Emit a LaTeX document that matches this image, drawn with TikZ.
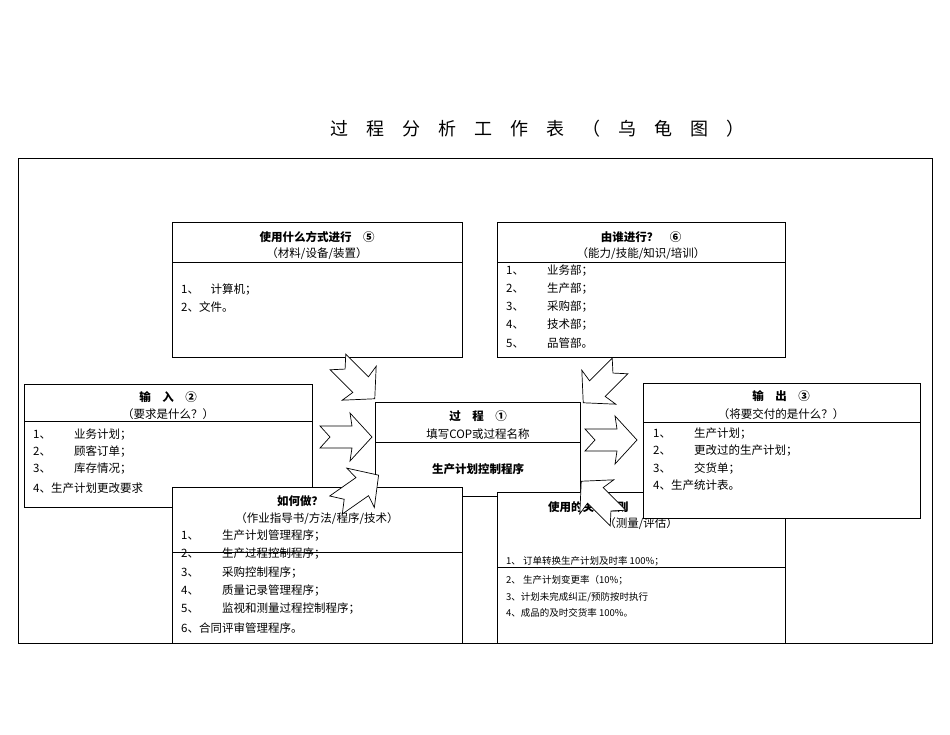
\documentclass[tikz,border=0pt]{standalone}
\usepackage{fontspec}
\setmainfont{Noto Sans CJK SC}
\begin{document}
\begin{tikzpicture}[x=1pt,y=-1pt,
  box/.style={draw,line width=0.8pt,fill=white,inner sep=0pt,anchor=north west},
  tx/.style={anchor=west,inner sep=0pt,font=\fontsize{11.5}{11.5}\selectfont},
  ct/.style={inner sep=0pt,font=\fontsize{11.5}{11.5}\selectfont},
  bt/.style={inner sep=0pt,font=\fontsize{11.5}{11.5}\selectfont\bfseries},
  barrow/.style={draw,fill=white,line width=0.7pt}]
\useasboundingbox (0,0) rectangle (950,735);
\node[ct,font=\fontsize{18}{18}\selectfont] (title) at (537,129) {过\quad 程\quad 分\quad 析\quad 工\quad 作\quad 表\quad （\quad 乌\quad 龟\quad 图\quad ）};
\node[box,line width=0.6pt,fill=none,minimum width=914pt,minimum height=485pt] (frame) at (18,158) {};
\newcommand{\blockarrow}[3]{% x y angle
 \begin{scope}[shift={(#1,#2)},rotate=#3]
 \draw[barrow] (0,-11) -- (32,-11) -- (30,-24) -- (52,0) -- (30,24) -- (32,11) -- (0,11) -- (10,0) -- cycle;
 \end{scope}}
% box 5
\node[box,minimum width=290pt,minimum height=135pt] (b5) at (172,222) {};
\draw (b5.north west) ++(0,40) coordinate (b5l) -- (b5.north east |- b5l);
\node[bt] (b5t) at (317,237) {使用什么方式进行\quad ⑤};
\node[ct] (b5s) at (317,254) {（材料/设备/装置）};
\node[tx] (b5a) at (181,290) {1、\quad 计算机；};
\node[tx] (b5b) at (181,307) {2、文件。};
% box 6
\node[box,minimum width=288pt,minimum height=135pt] (b6) at (497,222) {};
\draw (b6.north west) ++(0,40) coordinate (b6l) -- (b6.north east |- b6l);
\node[bt] (b6t) at (641,237) {由谁进行？\quad ⑥};
\node[ct] (b6s) at (641,254) {（能力/技能/知识/培训）};
\node[tx] (b6a) at (506,271) {1、\qquad 业务部；};
\node[tx] (b6b) at (506,289) {2、\qquad 生产部；};
\node[tx] (b6c) at (506,307) {3、\qquad 采购部；};
\node[tx] (b6d) at (506,325) {4、\qquad 技术部；};
\node[tx] (b6e) at (506,343) {5、\qquad 品管部。};
% input
\node[box,minimum width=288pt,minimum height=123pt] (bi) at (24,384) {};
\draw (bi.north west) ++(0,37) coordinate (bil) -- (bi.north east |- bil);
\node[bt] (bit) at (168,397) {输\quad 入\quad ②};
\node[ct] (bis) at (168,414) {（要求是什么？）};
\node[tx] (bia) at (33,435) {1、\qquad 业务计划；};
\node[tx] (bib) at (33,452) {2、\qquad 顾客订单；};
\node[tx] (bic) at (33,469) {3、\qquad 库存情况；};
\node[tx] (bid) at (33,488) {4、生产计划更改要求};
% process
\node[box,minimum width=205pt,minimum height=94pt] (bp) at (375,402) {};
\draw (bp.north west) ++(0,40) coordinate (bpl) -- (bp.north east |- bpl);
\node[bt] (bpt) at (478,416) {过\quad 程\quad ①};
\node[ct] (bps) at (478,434) {填写COP或过程名称};
\node[bt] (bpx) at (478,469) {生产计划控制程序};
% criteria
\node[box,minimum width=288pt,minimum height=151pt] (bc) at (497,492) {};
\node[bt,anchor=west] (bct) at (548,507) {使用的关键准则};
\node[ct] (bcs) at (641,524) {（测量/评估）};
\node[tx,font=\fontsize{9.5}{9.5}\selectfont] (bca) at (506,561) {1、 订单转换生产计划及时率 100\%；};
\draw (bc.west |- 0,567) coordinate (bcl) -- (bc.east |- bcl);
\node[tx,font=\fontsize{9.5}{9.5}\selectfont] (bcb) at (506,580) {2、 生产计划变更率（10\%；};
\node[tx,font=\fontsize{9.5}{9.5}\selectfont] (bcc) at (506,597) {3、计划未完成纠正/预防按时执行};
\node[tx,font=\fontsize{9.5}{9.5}\selectfont] (bcd) at (506,613) {4、成品的及时交货率 100\%。};
% output
\node[box,minimum width=277pt,minimum height=135pt] (bo) at (643,383) {};
\draw (bo.north west) ++(0,39) coordinate (bol) -- (bo.north east |- bol);
\node[bt] (bot) at (781,396) {输\quad 出\quad ③};
\node[ct] (bos) at (781,414) {（将要交付的是什么？）};
\node[tx] (boa) at (653,434) {1、\qquad 生产计划；};
\node[tx] (bob) at (653,451) {2、\qquad 更改过的生产计划；};
\node[tx] (boc) at (653,469) {3、\qquad 交货单；};
\node[tx] (bod) at (653,485) {4、生产统计表。};
% how
\node[box,minimum width=290pt,minimum height=156pt] (bh) at (172,487) {};
\node[bt] (bht) at (300,501) {如何做？};
\node[ct] (bhs) at (317,519) {（作业指导书/方法/程序/技术）};
\node[tx] (bha) at (181,536) {1、\qquad 生产计划管理程序；};
\node[tx] (bhb) at (181,554) {2、\qquad 生产过程控制程序；};
\draw (bh.west |- 0,552) coordinate (bhl) -- (bh.east |- bhl);
\node[tx] (bhc) at (181,573) {3、\qquad 采购控制程序；};
\node[tx] (bhd) at (181,591) {4、\qquad 质量记录管理程序；};
\node[tx] (bhe) at (181,609) {5、\qquad 监视和测量过程控制程序；};
\node[tx] (bhf) at (181,628) {6、合同评审管理程序。};
% arrows
\blockarrow{338}{362}{-45}
\blockarrow{320}{437}{0}
\blockarrow{336}{505}{35}
\blockarrow{620}{366}{-135}
\blockarrow{585}{440}{0}
\blockarrow{618}{518}{135}
\end{tikzpicture}
\end{document}
